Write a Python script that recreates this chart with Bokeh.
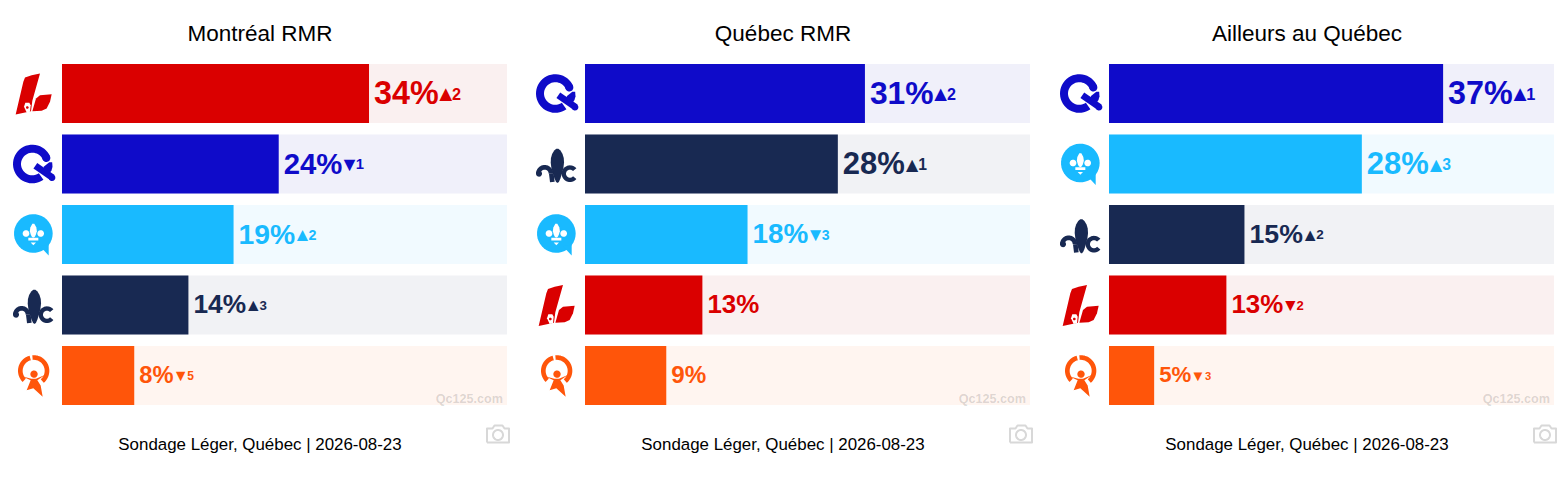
import numpy as np
from bokeh.plotting import figure
from bokeh.layouts import row
from bokeh.models import Range1d, ColumnDataSource
from bokeh.core.properties import value
from bokeh.embed import file_html
from bokeh.resources import INLINE

# ---- data
titles = ["Montréal RMR", "Québec RMR", "Ailleurs au Québec"]
footer = "Sondage Léger, Québec | 2026-08-23"
watermark = "Qc125.com"

montreal_parties = ["PLQ", "PQ", "CAQ", "PCQ", "QS"]
montreal_values = [34, 24, 19, 14, 8]
montreal_changes = [2, -1, 2, 3, -5]

quebec_parties = ["PQ", "PCQ", "CAQ", "PLQ", "QS"]
quebec_values = [31, 28, 18, 13, 9]
quebec_changes = [2, 1, -3, 0, 0]

ailleurs_parties = ["PQ", "CAQ", "PCQ", "PLQ", "QS"]
ailleurs_values = [37, 28, 15, 13, 5]
ailleurs_changes = [1, 3, 2, -2, -3]

axis_max = 49.28

# ---- styles
COLORS = {"PLQ": "#DA0000", "PQ": "#0F0BC9", "CAQ": "#19BAFF", "PCQ": "#182952", "QS": "#FF550A"}
TINTS = {"PLQ": "#FAF0F0", "PQ": "#F0F0FA", "CAQ": "#F1FAFF", "PCQ": "#F1F2F5", "QS": "#FFF5F0"}
FONT = value("Liberation Sans")
PX_PER_UNIT = 9.03
BAR_LEFT = 61.5
PAGE_TOP, PAGE_BOTTOM = 0, 470
ROW0, PITCH = 93, 70.5
BAR_H = 59 / PITCH


def chaikin(pts, n=2):
    p = np.asarray(pts, float)
    for _ in range(n):
        q = np.roll(p, -1, axis=0)
        p = np.column_stack([0.75 * p + 0.25 * q, 0.25 * p + 0.75 * q]).reshape(-1, 2)
    return p


def poly(*pts):
    return np.array(pts, float)


def circle(cx, cy, r):
    t = np.linspace(0, 2 * np.pi, 40)
    return np.column_stack([cx + r * np.cos(t), cy + r * np.sin(t)])


def arc(cx, cy, r0, r1, a0, a1):
    t = np.radians(np.linspace(a0, a1, 40))
    o = np.column_stack([cx + r1 * np.cos(t), cy - r1 * np.sin(t)])
    i = np.column_stack([cx + r0 * np.cos(t), cy - r0 * np.sin(t)])[::-1]
    return np.vstack([o, i])


def thick(x0, y0, x1, y1, w):
    d = np.array([x1 - x0, y1 - y0], float)
    n = np.array([-d[1], d[0]]) / np.hypot(*d) * w / 2
    return np.array([[x0, y0] + n, [x1, y1] + n, [x1, y1] - n, [x0, y0] - n])


# Logos: traced at 3x, relative to (bar left, row centre); None colour means party colour
LOGOS = {
    "PLQ": [
        (poly((-139, 63), (-116, -35), (-111, -48), (-91, -55), (-66, -60), (-89, 22), (-93, 53)), None),
        (poly((-31, 2), (-66, 5), (-78, 15), (-89, 53), (-61, 52), (-46, 45), (-36, 25)), None),
        (poly((-98, 28), (-94, 35), (-96, 55), (-106, 57), (-114, 40), (-110, 28)), "white"),
        (circle(-104, 42, 4), None),
    ],
    "PQ": [
        (arc(-89, 0, 34, 58, 23, 305), None),
        (circle(-47, -18, 12), None),
        (thick(-80, 5, -28, 41, 20), None),
        (circle(-30, 41, 10), None),
        (chaikin([(-62, 14), (-30, -12), (-28, 15), (-42, 34)], 1), None),
    ],
    "CAQ": [
        (circle(-86, -3, 58), None),
        (poly((-66, 35), (-40, 63), (-40, 30)), None),
        (chaikin([(-86, -38), (-74, -15), (-80, 6), (-86, 10), (-92, 6), (-98, -15)], 1), "white"),
        (circle(-108, -3, 10), "white"),
        (circle(-64, -3, 10), "white"),
        (poly((-101, 10), (-71, 10), (-71, 18), (-101, 18)), "white"),
        (poly((-94, 24), (-78, 24), (-86, 32)), "white"),
    ],
    "PCQ": [
        (chaikin([(-83, -56), (-58, -15), (-76, 56), (-89, 56), (-108, -15)], 2), None),
        (arc(-121, 29, 12, 26, 0, 180), None),
        (circle(-138, 29, 9), None),
        (thick(-101, 29, -98, 54, 14), None),
        (arc(-45, 29, 12, 25, 40, 320), None),
    ],
    "QS": [
        (arc(-85, -14, 33, 47, -50, 95), None),
        (arc(-85, -14, 33, 47, 105, 225), None),
        (circle(-84, -4, 11), None),
        (poly((-120, 2), (-94, 14), (-106, 44), (-86, 38), (-58, 64), (-64, 30), (-74, 14), (-50, -2),
              (-78, 10), (-92, 10)), None),
    ],
}


def value_font_size(v):
    return float(np.interp(v, [5, 9, 14, 19, 24, 28, 31, 34], [22, 24, 26, 28, 29, 30.7, 31.5, 32]))


def text_width(v, size):
    return (len(str(v)) * 0.556 + 0.889) * size


def panel(title, parties, values, changes, width):
    p = figure(
        width=width, height=PAGE_BOTTOM - PAGE_TOP, output_backend="svg", toolbar_location=None,
        x_axis_location=None, y_axis_location=None, min_border=0, outline_line_color=None,
        x_range=Range1d(-BAR_LEFT / PX_PER_UNIT, (width - BAR_LEFT) / PX_PER_UNIT),
        y_range=Range1d((PAGE_BOTTOM - ROW0) / PITCH, (PAGE_TOP - ROW0) / PITCH),
    )
    p.grid.visible = False
    p.extra_x_ranges["px"] = Range1d(-BAR_LEFT, width - BAR_LEFT)
    p.extra_y_ranges["px"] = Range1d(PAGE_BOTTOM, PAGE_TOP)

    ys = np.arange(len(values))
    colors = [COLORS[k] for k in parties]
    sizes = [value_font_size(v) for v in values]
    widths = [text_width(v, s) for v, s in zip(values, sizes)]
    src = ColumnDataSource(dict(
        y=ys, v=values, color=colors, tint=[TINTS[k] for k in parties], full=[axis_max] * len(values),
        label=[f"{v}%" for v in values],
        size=[f"{s * 1.01:.1f}px" for s in sizes],
        sym=[("▲" if c > 0 else "▼") if c else "" for c in changes],
        num=[str(abs(c)) if c else "" for c in changes],
        ssize=[f"{s * 0.68:.1f}px" for s in sizes],
        dsize=[f"{s * 0.51:.1f}px" for s in sizes],
        soff=[w + float(np.interp(w, [35, 52, 64], [4.5, 4, 2])) for w in widths],
        doff=[w + 19 for w in widths],
    ))
    p.hbar(y="y", left=0, right="full", height=BAR_H, fill_color="tint", line_color=None, source=src)
    p.hbar(y="y", left=0, right="v", height=BAR_H, fill_color="color", line_color=None, source=src)
    common = dict(text_color="color", text_font=FONT, text_font_style="bold", text_baseline="middle", source=src)
    p.text(x="v", y="y", text="label", text_font_size="size", x_offset=5, y_offset=-1, **common)
    p.text(x="v", y="y", text="sym", text_font_size="ssize", x_offset="soff", y_offset=0, **common)
    p.text(x="v", y="y", text="num", text_font_size="dsize", x_offset="doff", y_offset=0, **common)

    # logos
    for i, k in enumerate(parties):
        for pts, col in LOGOS[k]:
            yc = ROW0 + PITCH * i
            p.patch(pts[:, 0] / 3, yc + pts[:, 1] / 3, x_range_name="px", y_range_name="px",
                    fill_color=col or COLORS[k], line_color=None)

    # texts
    cx = 260 - 62
    p.text(x=[cx], y=[33], text=[title], text_font=FONT, text_font_size="22.5px", text_color="#000000",
           text_align="center", text_baseline="middle", x_range_name="px", y_range_name="px")
    p.text(x=[cx], y=[444], text=[footer], text_font=FONT, text_font_size="16.9px", text_color="#000000",
           text_align="center", text_baseline="middle", x_range_name="px", y_range_name="px")
    p.text(x=[441], y=[398], text=[watermark], text_font=FONT, text_font_style="bold", text_font_size="12.6px",
           text_color="#000000", text_alpha=0.15, text_align="right", text_baseline="middle",
           x_range_name="px", y_range_name="px")

    # camera icon
    gray = "#D8D8D8"
    bx = np.array([426, 426, 431.5, 433.5, 441.5, 443.5, 448, 448, 426]) - 1
    by = [442, 442 - 14, 428, 425, 425, 428, 428, 442, 442]
    p.line(bx, by, x_range_name="px", y_range_name="px", line_color=gray, line_width=2, line_join="round")
    c = circle(436, 434.5, 5)
    p.line(c[:, 0], c[:, 1], x_range_name="px", y_range_name="px", line_color=gray, line_width=2)
    return p


p1 = panel(titles[0], montreal_parties, montreal_values, montreal_changes, 523)
p2 = panel(titles[1], quebec_parties, quebec_values, quebec_changes, 524)
p3 = panel(titles[2], ailleurs_parties, ailleurs_values, ailleurs_changes, 513)

open("out.html", "w").write(file_html(row(p1, p2, p3), INLINE))
